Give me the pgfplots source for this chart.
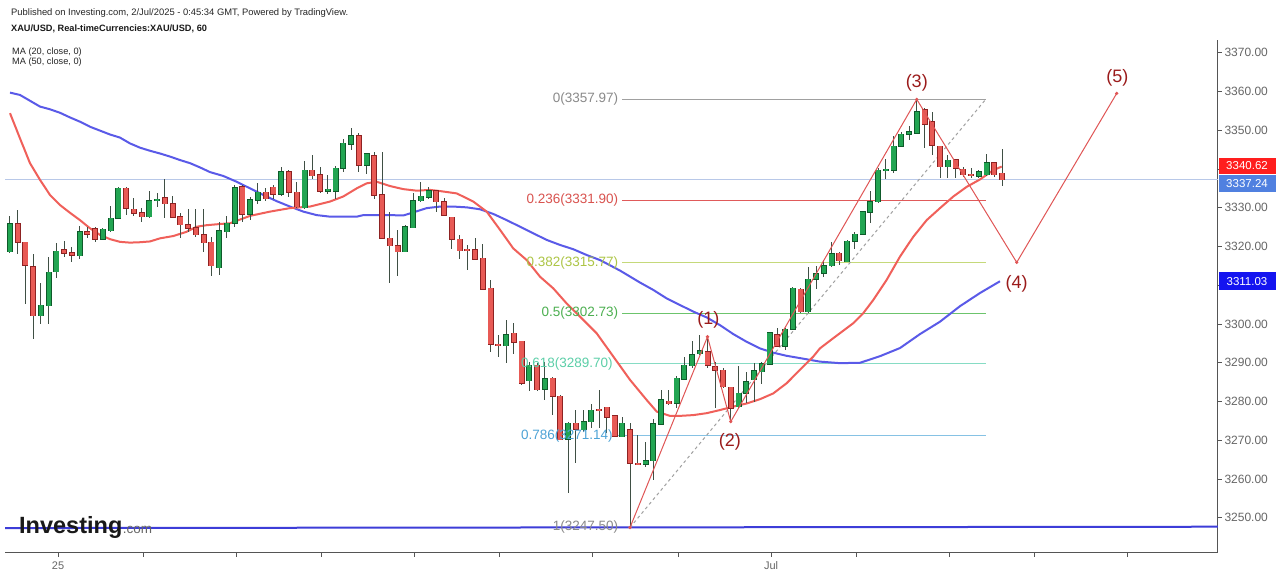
\documentclass[border=0pt]{standalone}
\usepackage{pgfplots}
\usepackage{pgfplotstable}
\pgfplotsset{compat=1.18}
\usepackage{fontspec}
\setmainfont{Liberation Sans}

\definecolor{cgreen}{HTML}{22A552}
\definecolor{cgreenD}{HTML}{0E5A2A}
\definecolor{cred}{HTML}{E85A55}
\definecolor{credD}{HTML}{8E2222}
\definecolor{wick}{HTML}{3F4F44}
\definecolor{ma20}{HTML}{F0605A}
\definecolor{ma50}{HTML}{5A5AE8}
\definecolor{hblue}{HTML}{3D3DD8}
\definecolor{pline}{HTML}{B8C8E8}
\definecolor{axgray}{HTML}{555555}
\definecolor{labgray}{HTML}{666666}
\definecolor{fibgray}{HTML}{A0A0A0}
\definecolor{fibgrayT}{HTML}{8A8A8A}
\definecolor{fibred}{HTML}{E05A5A}
\definecolor{fibredT}{HTML}{D9534F}
\definecolor{fibyg}{HTML}{C5D97A}
\definecolor{fibygT}{HTML}{ADC545}
\definecolor{fibgr}{HTML}{6CC46C}
\definecolor{fibgrT}{HTML}{4CAF50}
\definecolor{fibtl}{HTML}{86DCC4}
\definecolor{fibtlT}{HTML}{5CCFA8}
\definecolor{fibbl}{HTML}{86C2E4}
\definecolor{fibblT}{HTML}{4DA3D6}
\definecolor{ewave}{HTML}{E05555}
\definecolor{ewaveT}{HTML}{9B1B1B}
\definecolor{tagred}{HTML}{FF1E1E}
\definecolor{tagblue}{HTML}{5080E0}
\definecolor{tagma}{HTML}{1414F0}

\pgfplotstableread{
i O H L C
0 3318.7 3327.9 3318.4 3325.8
4 3302.1 3310.5 3300.0 3304.8
5 3304.7 3317.4 3300.0 3313.4
6 3313.5 3320.8 3311.8 3318.8
9 3317.6 3325.4 3316.8 3323.8
12 3321.9 3324.7 3321.9 3324.4
13 3324.1 3330.5 3323.8 3327.3
14 3327.3 3335.3 3327.0 3335.0
18 3327.7 3334.2 3327.3 3331.8
19 3331.8 3333.9 3330.3 3332.2
27 3314.5 3326.4 3312.7 3324.0
28 3323.8 3327.9 3322.1 3326.0
29 3326.0 3335.9 3325.1 3335.2
31 3328.3 3332.7 3326.8 3332.0
32 3332.0 3336.5 3331.0 3334.0
35 3333.5 3340.6 3332.9 3339.3
38 3330.0 3342.1 3329.6 3339.7
41 3334.3 3338.5 3333.6 3334.8
42 3334.2 3340.8 3332.2 3340.2
43 3340.2 3347.7 3339.3 3346.6
44 3346.4 3350.7 3344.9 3348.5
46 3341.0 3344.0 3338.7 3343.9
51 3318.7 3325.6 3318.7 3325.1
52 3324.9 3333.7 3324.7 3331.8
53 3331.8 3336.7 3331.6 3333.0
54 3332.7 3335.3 3332.2 3334.4
64 3294.4 3301.0 3289.9 3297.2
67 3285.4 3290.3 3282.6 3289.4
69 3283.2 3290.3 3280.4 3285.8
72 3270.3 3274.8 3256.3 3274.4
74 3272.7 3277.8 3272.2 3274.8
75 3274.8 3279.5 3273.1 3277.8
79 3270.9 3275.9 3270.9 3274.4
82 3263.9 3269.6 3263.2 3264.7
83 3264.7 3275.4 3259.8 3274.2
84 3274.2 3283.0 3274.2 3280.4
86 3279.5 3286.6 3278.3 3286.0
87 3285.7 3291.6 3285.6 3289.4
88 3289.2 3295.6 3288.6 3292.0
89 3292.3 3297.2 3292.0 3293.1
94 3278.7 3289.2 3278.3 3282.1
95 3282.1 3287.7 3279.5 3285.1
96 3285.6 3289.9 3280.0 3287.9
97 3287.7 3290.3 3284.5 3289.7
98 3289.7 3297.8 3289.4 3297.8
100 3294.3 3298.9 3293.3 3298.6
101 3298.6 3309.6 3298.5 3309.2
103 3303.2 3314.8 3302.9 3311.5
104 3311.5 3315.0 3309.0 3312.9
105 3313.1 3316.5 3312.2 3315.1
106 3315.0 3321.2 3314.8 3318.2
108 3316.1 3321.7 3315.9 3321.3
109 3321.3 3323.8 3319.3 3323.2
110 3323.2 3329.2 3323.0 3329.0
111 3328.8 3334.4 3326.0 3331.6
112 3331.6 3340.2 3331.3 3339.7
113 3339.7 3342.5 3337.3 3339.9
114 3339.7 3348.5 3338.9 3345.9
115 3345.9 3349.6 3345.6 3349.0
116 3349.0 3351.1 3347.5 3349.6
117 3349.2 3357.97 3349.0 3354.8
121 3340.6 3343.6 3337.6 3342.2
125 3338.2 3339.7 3337.6 3339.3
126 3338.5 3343.9 3338.2 3341.6
}\greencandles

\pgfplotstableread{
i O H L C
1 3325.8 3329.4 3318.2 3321.1
2 3321.1 3321.1 3305.2 3315.1
3 3314.8 3318.2 3296.1 3302.2
7 3319.1 3321.4 3317.4 3318.2
8 3318.4 3320.0 3316.1 3317.7
10 3323.8 3325.1 3322.1 3323.2
11 3324.6 3325.1 3321.2 3321.9
15 3335.0 3335.4 3328.1 3329.9
16 3329.6 3332.4 3327.9 3328.6
17 3328.7 3329.9 3326.2 3327.7
20 3332.6 3337.5 3327.3 3331.0
21 3331.0 3332.9 3327.3 3327.5
22 3327.6 3328.7 3322.1 3325.6
23 3325.6 3329.6 3323.8 3324.7
24 3324.8 3329.8 3322.5 3323.0
25 3323.1 3329.6 3318.7 3321.0
26 3321.1 3322.5 3312.5 3315.0
30 3335.4 3335.9 3326.4 3328.4
33 3334.0 3335.0 3331.8 3332.3
34 3335.3 3335.9 3332.3 3333.5
36 3339.3 3339.7 3332.7 3334.0
37 3334.0 3336.7 3329.9 3330.3
39 3339.7 3343.6 3337.4 3338.3
40 3338.5 3340.6 3333.7 3334.3
45 3348.6 3349.2 3339.3 3341.0
47 3343.4 3344.5 3332.2 3333.3
48 3333.3 3344.5 3322.1 3322.1
49 3322.1 3329.0 3310.5 3320.2
50 3320.2 3324.3 3312.4 3318.7
55 3334.4 3334.6 3329.0 3331.6
56 3331.6 3332.4 3327.9 3328.1
57 3327.5 3327.5 3319.3 3321.9
58 3321.9 3323.0 3316.7 3318.9
59 3319.3 3320.4 3313.9 3319.1
60 3319.1 3322.1 3316.5 3316.7
61 3317.0 3320.6 3308.8 3309.0
62 3309.2 3311.4 3292.9 3294.8
63 3294.8 3297.2 3291.6 3294.5
65 3297.6 3300.4 3292.4 3295.3
66 3295.5 3295.5 3284.3 3284.7
68 3289.4 3289.9 3282.6 3283.0
70 3286.0 3286.4 3276.5 3281.4
71 3281.3 3281.7 3270.1 3270.1
73 3274.4 3277.8 3264.1 3272.8
76 3278.0 3283.0 3273.1 3277.8
77 3278.5 3278.7 3271.8 3276.0
78 3276.3 3276.5 3270.9 3271.1
80 3272.7 3274.4 3247.5 3264.1
81 3264.1 3271.4 3263.6 3263.8
85 3280.1 3283.0 3279.0 3279.4
90 3292.9 3296.7 3288.6 3289.4
91 3289.0 3290.3 3278.3 3288.1
92 3288.1 3288.6 3283.4 3283.8
93 3283.7 3283.8 3274.8 3278.3
99 3297.3 3298.9 3294.2 3294.3
102 3309.0 3309.2 3302.9 3303.2
107 3318.2 3318.7 3315.2 3316.3
118 3355.2 3355.7 3345.3 3351.6
119 3352.2 3354.8 3343.6 3346.2
120 3345.9 3345.9 3337.6 3340.6
122 3342.3 3342.3 3337.6 3340.2
123 3339.9 3340.4 3338.0 3338.5
124 3338.6 3340.2 3337.6 3338.5
127 3341.6 3341.9 3338.0 3338.5
128 3338.9 3345.1 3335.6 3337.24
}\redcandles

\begin{document}
\begin{tikzpicture}
\useasboundingbox (0pt,0pt) rectangle (1280pt,578pt);
\fill[white] (0pt,0pt) rectangle (1280pt,578pt);
\begin{axis}[
  at={(5pt,25pt)}, anchor=south west,
  width=1213pt, height=513pt, scale only axis,
  xmin=-0.645, xmax=155.87, ymin=3240.92, ymax=3373.28,
  axis x line*=bottom, axis y line*=right,
  axis line style={draw=axgray, line width=1pt, -},
  xtick={6.2,17.2,29.2,40.2,52.2,63.2,75.2,86.2,98.2,109.2,121.2,132.2,144.2},
  xticklabels={25,,,,,,,,Jul,,,,},
  ytick={3250,3260,3270,3280,3290,3300,3310,3320,3330,3340,3350,3360,3370},
  yticklabels={3250.00,3260.00,3270.00,3280.00,3290.00,3300.00,,3320.00,3330.00,,3350.00,3360.00,3370.00},
  tick align=outside, major tick length=4pt,
  tick style={draw=axgray, line width=0.8pt},
  xticklabel style={font=\fontsize{11}{12}\selectfont, text=labgray, yshift=-1pt},
  yticklabel style={font=\fontsize{12}{13}\selectfont, text=labgray, anchor=west, xshift=-1pt},
  clip=true,
]
% horizontal reference lines
\addplot[pline, line width=1pt, forget plot] coordinates {(-0.65,3337.24) (155.9,3337.24)};
\addplot[hblue, line width=2pt, forget plot] coordinates {(-0.65,3247.35) (155.9,3247.7)};

% fibonacci levels
\addplot[fibgray, line width=1pt, forget plot] coordinates {(79.0,3357.97) (125.9,3357.97)};
\addplot[fibred, line width=1pt, forget plot] coordinates {(79.0,3331.90) (125.9,3331.90)};
\addplot[fibyg, line width=1pt, forget plot] coordinates {(79.0,3315.77) (125.9,3315.77)};
\addplot[fibgr, line width=1pt, forget plot] coordinates {(79.0,3302.73) (125.9,3302.73)};
\addplot[fibtl, line width=1pt, forget plot] coordinates {(78.4,3289.70) (125.9,3289.70)};
\addplot[fibbl, line width=1pt, forget plot] coordinates {(78.4,3271.14) (125.9,3271.14)};
\addplot[fibgray, line width=1pt, dash pattern=on 3pt off 3pt, forget plot] coordinates {(80,3247.5) (125.9,3357.97)};

% moving averages
\addplot[ma50, line width=2pt, forget plot] coordinates {
(0,3359.7) (1.29,3359.1) (2.58,3357.6) (3.87,3356.1) (5.16,3355.4) (6.45,3354.5) (7.74,3353.3) (9.03,3352.2) (10.32,3350.9) (11.61,3349.9) (12.9,3348.9) (14.19,3348.1) (15.48,3346.6) (16.77,3345.5) (18.06,3344.7) (19.35,3344.0) (20.65,3343.2) (21.94,3342.3) (23.23,3341.5) (24.52,3340.4) (25.8,3339.2) (27.52,3338.2) (29.25,3336.7) (30.97,3335.0) (32.68,3333.3) (34.41,3331.7) (36.13,3330.3) (37.85,3329.0) (39.57,3328.1) (41.29,3327.7) (43.0,3327.7) (44.74,3327.7) (45.59,3328.1) (47.32,3328.1) (49.03,3328.1) (50.75,3328.0) (52.04,3328.8) (53.76,3329.9) (55.48,3330.3) (57.2,3330.3) (58.93,3330.1) (60.65,3329.6) (62.36,3328.4) (64.09,3326.8) (65.81,3325.1) (67.52,3323.4) (69.25,3321.7) (70.97,3320.4) (72.68,3319.3) (74.41,3317.8) (76.13,3316.5) (78.7,3313.8) (81.29,3310.7) (83.0,3308.8) (84.74,3306.6) (86.45,3304.9) (88.17,3303.2) (89.9,3301.7) (91.61,3299.7) (93.33,3297.4) (95.06,3295.4) (96.77,3293.7) (98.49,3292.6) (100.2,3291.8) (101.94,3291.2) (104.5,3290.3) (107.1,3289.9) (109.68,3290.0) (112.26,3291.7) (114.84,3293.8) (117.42,3297.4) (120.0,3300.6) (122.58,3304.6) (125.16,3308.0) (127.74,3311.03)};
\addplot[ma20, line width=2pt, forget plot] coordinates {
(0,3354.4) (1.29,3347.9) (2.58,3341.5) (3.87,3337.2) (5.16,3333.3) (6.45,3330.7) (7.74,3328.7) (9.03,3326.8) (10.32,3324.7) (11.61,3323.0) (12.9,3321.9) (14.19,3321.2) (15.48,3321.0) (16.77,3321.1) (18.06,3321.3) (19.35,3322.1) (21.07,3322.7) (22.8,3323.8) (24.09,3325.1) (25.38,3325.5) (27.1,3325.8) (28.39,3326.0) (30.97,3327.9) (33.55,3329.0) (36.13,3329.9) (38.71,3330.3) (41.29,3331.6) (43.0,3332.9) (44.74,3335.0) (46.03,3336.3) (47.32,3336.7) (49.03,3335.6) (50.75,3334.8) (52.48,3334.4) (54.19,3334.6) (55.48,3334.3) (57.64,3333.7) (59.78,3331.6) (61.51,3329.0) (63.23,3324.3) (64.94,3319.5) (66.67,3316.5) (68.39,3312.2) (70.1,3309.2) (71.83,3305.3) (73.55,3301.9) (75.7,3297.6) (77.85,3291.6) (80.0,3285.6) (82.15,3280.4) (83.45,3277.4) (85.16,3276.3) (86.45,3276.3) (88.17,3276.5) (89.9,3277.0) (91.61,3277.8) (93.33,3278.7) (95.06,3279.5) (96.77,3280.6) (98.49,3282.1) (100.2,3284.7) (101.94,3288.2) (103.65,3291.6) (104.5,3293.7) (106.2,3296.3) (108.8,3300.2) (110.1,3302.8) (111.39,3306.2) (113.12,3311.4) (114.84,3317.4) (116.55,3322.5) (118.28,3326.8) (120.0,3329.9) (121.72,3332.9) (123.45,3335.4) (125.16,3337.3) (126.88,3339.7) (127.96,3340.62)};

% candle wicks
\addplot[draw=none, mark=none, forget plot, error bars/.cd, y dir=both, y explicit, error mark=none,
  error bar style={draw=wick, line width=1pt}]
  table[x=i, y expr={(\thisrow{H}+\thisrow{L})/2}, y error expr={(\thisrow{H}-\thisrow{L})/2}] {\greencandles};
\addplot[draw=none, mark=none, forget plot, error bars/.cd, y dir=both, y explicit, error mark=none,
  error bar style={draw=wick, line width=1pt}]
  table[x=i, y expr={(\thisrow{H}+\thisrow{L})/2}, y error expr={(\thisrow{H}-\thisrow{L})/2}] {\redcandles};
% candle bodies (outline + fill)
\addplot[draw=none, mark=none, forget plot, error bars/.cd, y dir=both, y explicit, error mark=none,
  error bar style={draw=cgreenD, line width=6pt}]
  table[x=i, y expr={(\thisrow{O}+\thisrow{C})/2}, y error expr={abs(\thisrow{C}-\thisrow{O})/2+0.15}] {\greencandles};
\addplot[draw=none, mark=none, forget plot, error bars/.cd, y dir=both, y explicit, error mark=none,
  error bar style={draw=cgreen, line width=4.2pt}]
  table[x=i, y expr={(\thisrow{O}+\thisrow{C})/2}, y error expr={abs(\thisrow{C}-\thisrow{O})/2}] {\greencandles};
\addplot[draw=none, mark=none, forget plot, error bars/.cd, y dir=both, y explicit, error mark=none,
  error bar style={draw=credD, line width=6pt}]
  table[x=i, y expr={(\thisrow{O}+\thisrow{C})/2}, y error expr={abs(\thisrow{C}-\thisrow{O})/2+0.15}] {\redcandles};
\addplot[draw=none, mark=none, forget plot, error bars/.cd, y dir=both, y explicit, error mark=none,
  error bar style={draw=cred, line width=4.2pt}]
  table[x=i, y expr={(\thisrow{O}+\thisrow{C})/2}, y error expr={abs(\thisrow{C}-\thisrow{O})/2}] {\redcandles};

% Elliott wave count
\addplot[ewave, line width=1pt, mark=*, mark size=1.1pt, mark options={fill=ewave, draw=ewave}, forget plot] coordinates {
(80,3247.5) (90,3296.7) (93,3274.8) (117,3357.97) (129.9,3315.9) (142.8,3359.5)};

% fib labels
\begin{scope}[every node/.style={font=\fontsize{13.5}{14}\selectfont, anchor=east, inner sep=0pt}]
\node[text=fibgrayT] at (axis cs:78.5,3357.97) {0(3357.97)};
\node[text=fibredT] at (axis cs:78.5,3331.90) {0.236(3331.90)};
\node[text=fibygT] at (axis cs:78.5,3315.77) {0.382(3315.77)};
\node[text=fibgrT] at (axis cs:78.5,3302.73) {0.5(3302.73)};
\node[text=fibtlT] at (axis cs:77.8,3289.70) {0.618(3289.70)};
\node[text=fibblT] at (axis cs:77.8,3271.14) {0.786(3271.14)};
\node[text=fibgrayT] at (axis cs:78.5,3247.50) {1(3247.50)};
\end{scope}
% wave labels
\begin{scope}[every node/.style={font=\fontsize{18}{20}\selectfont, text=ewaveT, inner sep=0pt}]
\node at (axis cs:90.1,3301.0) {(1)};
\node at (axis cs:92.9,3269.6) {(2)};
\node at (axis cs:117.0,3362.3) {(3)};
\node at (axis cs:129.9,3310.3) {(4)};
\node at (axis cs:142.9,3363.6) {(5)};
\end{scope}
\end{axis}

% header texts
\node[anchor=base west, inner sep=0pt, font=\fontsize{9.4}{10}\selectfont, text=black!85] at (11pt,562.5pt) {Published on Investing.com, 2/Jul/2025 - 0:45:34 GMT, Powered by TradingView.};
\node[anchor=base west, inner sep=0pt, font=\bfseries\fontsize{9.2}{10}\selectfont, text=black!90] at (11pt,546pt) {XAU/USD, Real-timeCurrencies:XAU/USD, 60};
\node[anchor=base west, inner sep=0pt, font=\fontsize{9.2}{9}\selectfont, text=black!85] at (12pt,523.5pt) {MA (20, close, 0)};
\node[anchor=base west, inner sep=0pt, font=\fontsize{9.2}{9}\selectfont, text=black!85] at (12pt,513.5pt) {MA (50, close, 0)};

% investing logo
\node[anchor=base west, inner sep=0pt, font=\bfseries\fontsize{23.5}{24}\selectfont, text=black!90] (logo) at (19pt,44pt) {Investing};
\node[anchor=base west, inner sep=0pt, font=\fontsize{13.5}{14}\selectfont, text=black!60] at (logo.base east) {.com};

% price tags
\begin{scope}[every node/.style={inner sep=0pt, anchor=west, minimum width=57pt, font=\fontsize{11.5}{12}\selectfont, text=white}]
\node[fill=tagred, minimum height=16.5pt] at (1218.3pt,412.2pt) {3340.62};
\node[fill=tagblue, minimum height=17pt] at (1218.3pt,394.3pt) {3337.24};
\node[fill=tagma, minimum height=17.5pt] at (1218.3pt,296.8pt) {3311.03};
\end{scope}
\end{tikzpicture}
\end{document}
